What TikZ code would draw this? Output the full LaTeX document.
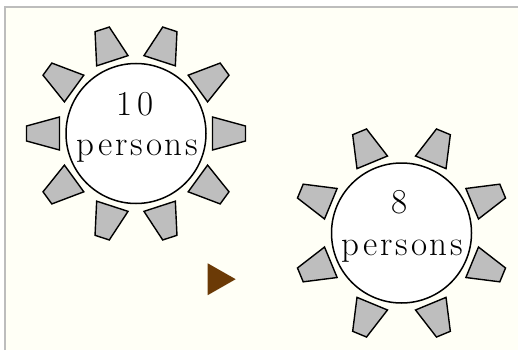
\documentclass[tikz,border=0pt]{standalone}
\usepackage{fontspec}
\setmainfont{Latin Modern Roman}
\definecolor{bgcream}{HTML}{FFFFF6}
\definecolor{framegrey}{HTML}{BDBDBD}
\definecolor{chairgrey}{HTML}{BEBEBE}
\definecolor{arrowbrown}{HTML}{6B3A06}
\tikzset{
  tablecircle/.style={circle,draw=black,line width=1.5pt,fill=white,minimum size=140pt,inner sep=0pt},
  tabletext/.style={inner sep=0pt,anchor=base},
  chairshape/.style={draw=black,line width=1.4pt,fill=chairgrey,line join=miter}
}
\newcommand{\chairat}[3]{%
  \draw[chairshape,shift={(#1,#2)},rotate=#3]
    (76.5,-16.5) -- (109.5,-7.5) -- (109.5,7.5) -- (76.5,16.5) -- cycle;}
\newcommand{\spaced}[1]{{\fontsize{35pt}{35pt}\selectfont\addfontfeature{LetterSpace=8}#1}}
\begin{document}
\begin{tikzpicture}[x=1pt,y=-1pt]
\useasboundingbox (0,0) rectangle (518,350);
\fill[bgcream] (5,7) rectangle (518,350);
\draw[framegrey,line width=1.2pt] (5,350) -- (5,7) -- (518,7);
\node[tablecircle] (bigtable) at (136,133.5) {};
\node[tablecircle] (smalltable) at (401.5,233) {};
\foreach \a in {0,36,...,324} {\chairat{136}{133.5}{\a}}
\foreach \a in {22.5,67.5,...,337.5} {\chairat{401.5}{233}{\a}}
\node[tabletext] (numten) at (135.5,115) {\spaced{1\hspace{5pt}0}};
\node[tabletext] (persten) at (137.5,155.5) {\spaced{persons}};
\node[tabletext] (numeight) at (400,213.5) {\spaced{8}};
\node[tabletext] (perseight) at (402.5,255) {\spaced{persons}};
\fill[arrowbrown] (207.7,263.3) -- (235.7,279.2) -- (207.7,295.2) -- cycle;
\end{tikzpicture}
\end{document}
